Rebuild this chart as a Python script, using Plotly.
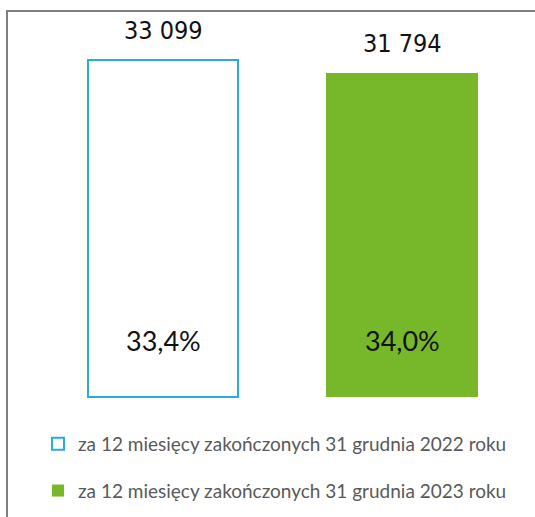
import plotly.graph_objects as go

# data
periods = ["za 12 miesięcy zakończonych 31 grudnia 2022 roku",
           "za 12 miesięcy zakończonych 31 grudnia 2023 roku"]
values = [33099, 31794]
shares = [33.4, 34.0]

W, H = 535, 517
base_px = 397          # baseline from top
px_per_unit = 337 / 33099
y_lo = -(H - base_px) / px_per_unit
y_hi = base_px / px_per_unit

x_step = 239.0
x0_px = 163.0
x_lo = -x0_px / x_step
x_hi = (W - x0_px) / x_step

fig = go.Figure()

fig.add_trace(go.Bar(
    x=[0], y=[values[0]], name=periods[0], width=150 / x_step,
    marker=dict(color="white", line=dict(color="#29abe2", width=2)),
    legendgroup="a",
))
fig.add_trace(go.Bar(
    x=[1], y=[values[1]], name=periods[1], width=152 / x_step,
    marker=dict(color="#77b82a", line=dict(width=0)),
    legendgroup="b",
))

for i, (v, s) in enumerate(zip(values, shares)):
    fig.add_annotation(
        x=i, y=v, yanchor="bottom", yshift=13, showarrow=False,
        text=f"{v:,}".replace(",", " "),
        font=dict(family="Liberation Sans Narrow, DejaVu Sans Condensed, Liberation Sans, sans-serif",
                  size=25, color="#111111"),
    )
    fig.add_annotation(
        x=i, y=(base_px - 340) / px_per_unit, showarrow=False,
        text=f"{s:.1f}%".replace(".", ","),
        font=dict(family="Lato, Open Sans, sans-serif", size=27, color="#111111"),
    )

# grey frame: only left and top edges are visible
fx, fy = 7 / W, 1 - 11 / H
fig.add_shape(type="path", xref="paper", yref="paper",
              path=f"M {fx},-0.1 L {fx},{fy} L 1.1,{fy}",
              line=dict(color="#7f7f7f", width=2), layer="above")

fig.update_layout(
    width=W, height=H,
    margin=dict(l=0, r=0, t=0, b=0),
    paper_bgcolor="white", plot_bgcolor="white",
    xaxis=dict(range=[x_lo, x_hi], visible=False, fixedrange=True),
    yaxis=dict(range=[y_lo, y_hi], visible=False, fixedrange=True),
    showlegend=True,
    legend=dict(x=38 / W, xanchor="left", y=1 - 425 / H, yanchor="top",
                traceorder="grouped", tracegroupgap=19,
                font=dict(family="Lato, Open Sans, sans-serif", size=19, color="#595959"),
                bgcolor="rgba(0,0,0,0)"),
    bargap=0,
)

fig.write_html("out.html", config={"displayModeBar": False},
               post_script="document.body.style.margin='0px';"
                           "document.body.style.overflow='hidden';")
